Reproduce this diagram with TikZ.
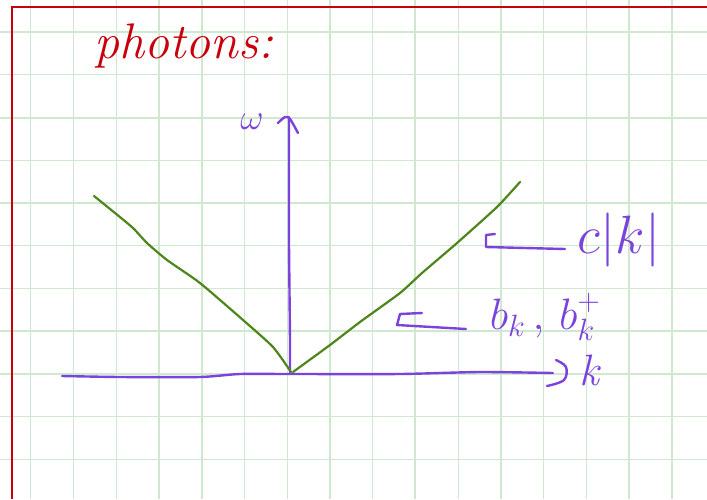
\RequirePackage{fix-cm}
\documentclass[tikz,border=0pt]{standalone}
\begin{document}
\begin{tikzpicture}[x=1pt,y=-1pt,
  gridthin/.style={draw=gridgreen,line width=1.2pt},
  gridthick/.style={draw=gridgreen,line width=2pt},
  margin/.style={draw=marginred,line width=2.2pt},
  pen/.style={draw=penpurple,line width=2.4pt,line cap=round,line join=round},
  curve/.style={draw=pengreen,line width=2.2pt,line cap=round,line join=round},
  lbl/.style={text=penpurple,inner sep=0pt}]
\definecolor{gridgreen}{RGB}{208,232,208}
\definecolor{marginred}{RGB}{200,0,10}
\definecolor{penpurple}{RGB}{122,68,220}
\definecolor{pengreen}{RGB}{78,134,28}
\useasboundingbox (0,0) rectangle (707,499);
\fill[white] (0,0) rectangle (707,499);
% grid
\foreach \n in {0,...,15} {
  \pgfmathsetmacro{\xx}{30.7+42.75*\n}
  \draw[gridthin] (\xx,0) -- (\xx,499);
}
\foreach \n in {4,9,14} {
  \pgfmathsetmacro{\xx}{30.7+42.75*\n}
  \draw[gridthick] (\xx,0) -- (\xx,499);
}
\foreach \n in {0,...,10} {
  \pgfmathsetmacro{\yy}{32+42.75*\n}
  \draw[gridthin] (0,\yy) -- (707,\yy);
}
\foreach \n in {2,7} {
  \pgfmathsetmacro{\yy}{32+42.75*\n}
  \draw[gridthick] (0,\yy) -- (707,\yy);
}
% margin
\draw[margin] (707,7) -- (12,7) -- (12,499);
% title
\node[text=marginred,inner sep=0pt,font=\fontsize{50}{54}\selectfont\itshape] (title) at (184,46) {photons:};
% axes
\coordinate (o) at (290,374);
\coordinate (kend) at (553,373);
\coordinate (wend) at (289,117);
\draw[pen] plot[smooth,tension=0.4] coordinates {(62,376) (120,377) (200,377) (240,374) (290,374) (400,374) (480,372) (kend)};
\draw[pen] (o) -- (290,340) -- (289,245) -- (wend);
\draw[pen] plot[smooth,tension=0.5] coordinates {(278,123) (285,117) (290,119) (298,133)};
\draw[pen] plot[smooth,tension=0.6] coordinates {(556,360) (566,367) (564,380) (547,386)};
\node[lbl,font=\fontsize{44}{48}\selectfont\itshape] (k) at (589,370) {k};
\node[lbl,font=\fontsize{36}{40}\selectfont] (w) at (252,122) {$\omega$};
% dispersion
\draw[curve] plot[smooth,tension=0.35] coordinates {(94,196) (115,213) (133,228) (147,243) (167,260) (200,283) (243,320) (273,347) (291,372)};
\draw[curve] plot[smooth,tension=0.35] coordinates {(293,372) (330,345) (360,322) (400,293) (422,273) (457,243) (497,207) (520,182)};
% labels
\node[lbl,font=\fontsize{54}{58}\selectfont] (ck) at (619,240) {$c|k|$};
\node[lbl,font=\fontsize{44}{48}\selectfont] (bk) at (545,317) {$b_k\,,\,b_k^{\raisebox{3pt}{$\scriptstyle+$}}$};
\coordinate (ckt) at (495,234);
\coordinate (bkt) at (422,313);
\coordinate (cks) at (565,249);
\coordinate (bks) at (466,329);
\draw[pen] (cks) -- (486,247) -- (486,235) -- (ckt);
\draw[pen] (bks) -- (397,325) -- (400,314) -- (bkt);
\end{tikzpicture}
\end{document}
